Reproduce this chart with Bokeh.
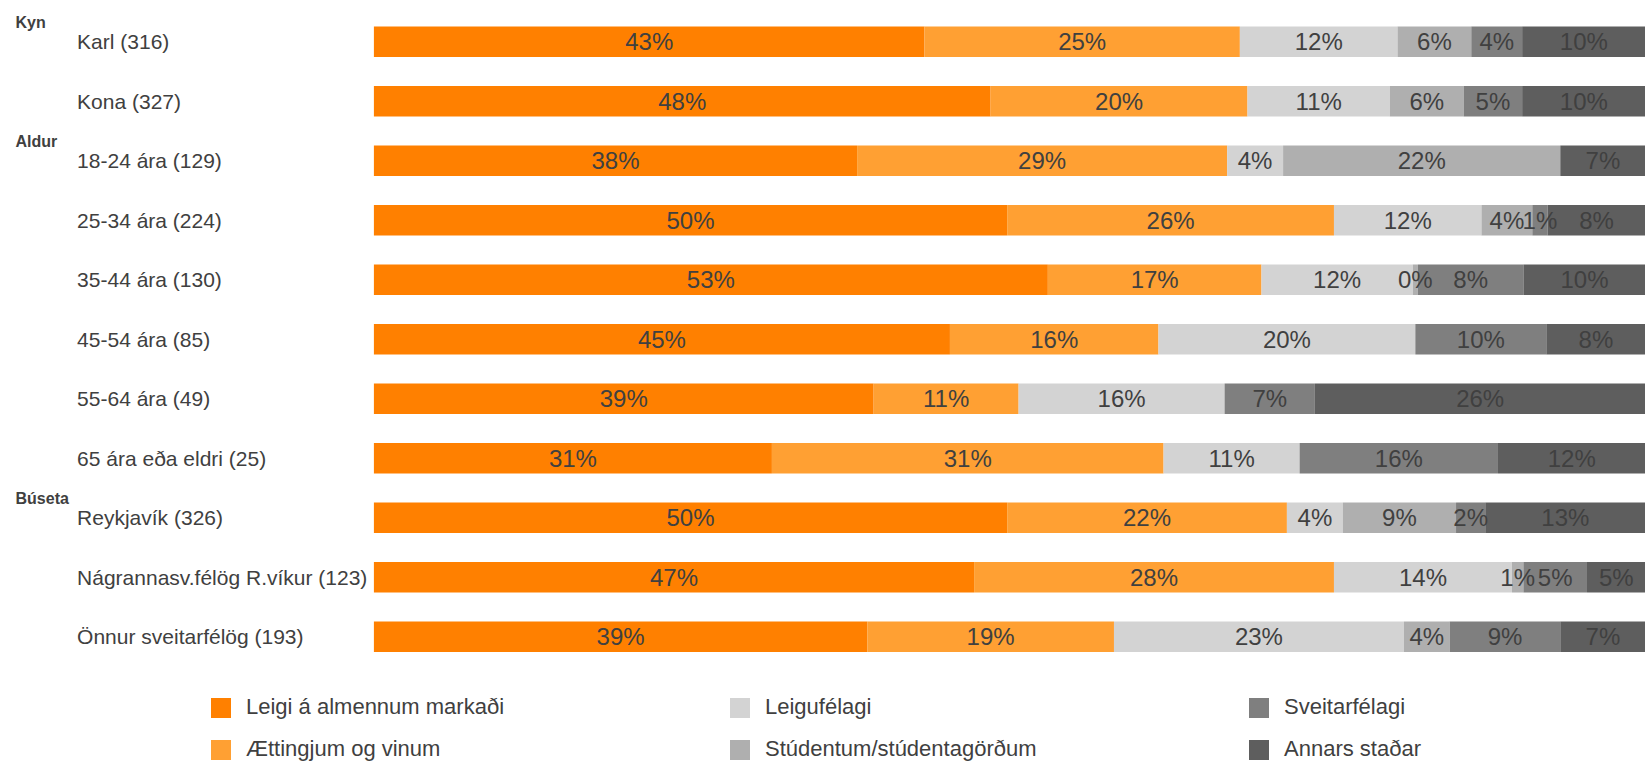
from bokeh.plotting import figure
from bokeh.models import ColumnDataSource, Range1d
from bokeh.embed import file_html
from bokeh.resources import INLINE
from bokeh.core.properties import value

# ---------------- data ----------------
categories = [
    "Karl (316)", "Kona (327)",
    "18-24 ára (129)", "25-34 ára (224)", "35-44 ára (130)", "45-54 ára (85)",
    "55-64 ára (49)", "65 ára eða eldri (25)",
    "Reykjavík (326)", "Nágrannasv.félög R.víkur (123)", "Önnur sveitarfélög (193)",
]
group_names = ["Kyn", "Aldur", "Búseta"]
group_first_row = [0, 2, 8]

series_names = [
    "Leigi á almennum markaði", "Ættingjum og vinum", "Leigufélagi",
    "Stúdentum/stúdentagörðum", "Sveitarfélagi", "Annars staðar",
]
leigi_almennum = [43.3, 48.5, 38.0, 49.8, 53.0, 45.3, 39.3, 31.3, 49.8, 47.2, 38.8]
aettingjum_vinum = [24.8, 20.2, 29.1, 25.7, 16.8, 16.4, 11.4, 30.8, 22.0, 28.3, 19.4]
leigufelagi = [12.4, 11.2, 4.4, 11.6, 11.9, 20.2, 16.2, 10.7, 4.4, 14.0, 22.8]
studentum = [5.8, 5.8, 21.8, 4.0, 0.4, 0.0, 0.0, 0.0, 8.9, 0.9, 3.6]
sveitarfelagi = [4.0, 4.6, 0.0, 1.2, 8.3, 10.3, 7.1, 15.6, 2.3, 5.0, 8.7]
annars_stadar = [9.7, 9.7, 6.7, 7.7, 9.6, 7.8, 26.0, 11.6, 12.6, 4.6, 6.7]
series_values = [leigi_almennum, aettingjum_vinum, leigufelagi, studentum, sveitarfelagi, annars_stadar]

colors = ["#FF8000", "#FFA033", "#D3D3D3", "#AFAFAF", "#7F7F7F", "#5E5E5E"]
TEXT = "#404040"
FONT = "Liberation Sans"

# ---------------- layout constants ----------------
W, H = 1645, 762
BAR_LEFT_PX = 373.4           # frame px where 0% sits
PX_PER_UNIT = (W - BAR_LEFT_PX) / 100.0
ROW_PX = 59.5                 # vertical pitch of rows
FIRST_ROW_PX = 41.25          # frame px of first row centre
x_start = -BAR_LEFT_PX / PX_PER_UNIT
y_top = -FIRST_ROW_PX / ROW_PX
y_bottom = y_top + H / ROW_PX

rows = list(range(len(categories)))
data = {"y": rows, "cat": categories}
keys = []
for i, vals in enumerate(series_values):
    k = f"s{i}"
    keys.append(k)
    data[k] = vals
src = ColumnDataSource(data)

p = figure(width=W, height=H, output_backend="svg", toolbar_location=None,
           x_range=Range1d(x_start, 100), y_range=Range1d(y_bottom, y_top),
           min_border=0, min_border_left=0, min_border_right=0,
           min_border_top=0, min_border_bottom=0)
p.axis.visible = False
p.grid.visible = False
p.outline_line_color = None
p.background_fill_color = "white"
p.border_fill_color = "white"

p.hbar_stack(keys, y="y", height=0.513, color=colors, line_color=None,
             source=src, legend_label=series_names)

# segment labels
lx, ly, lt = [], [], []
for r in rows:
    cum = 0.0
    for vals in series_values:
        v = vals[r]
        if v > 0:
            lx.append(cum + v / 2)
            ly.append(r)
            lt.append(f"{v:.0f}%")
        cum += v
p.text(x="x", y="y", text="t", source=ColumnDataSource(dict(x=lx, y=ly, t=lt)),
       text_align="center", text_baseline="middle", text_color=TEXT,
       text_font=value(FONT), text_font_size="24px")

# category labels
p.text(x=[x_start] * len(rows), y=rows, text=categories, x_offset=76.6,
       text_align="left", text_baseline="middle", text_color=TEXT,
       text_font=value(FONT), text_font_size="21px")

# group headers
p.text(x=[x_start] * len(group_names), y=[g - 0.32 for g in group_first_row],
       text=group_names, x_offset=15, text_align="left", text_baseline="middle",
       text_color=TEXT, text_font=value(FONT), text_font_size="16px",
       text_font_style="bold")

lg = p.legend[0]
lg.location = (208, 0)
lg.orientation = "vertical"
lg.nrows = 2
lg.glyph_width = 25
lg.glyph_height = 25
lg.label_standoff = 13
lg.label_width = 465
lg.spacing = 16
lg.padding = 0
lg.margin = 0
lg.border_line_color = None
lg.background_fill_alpha = 0
lg.label_text_font = FONT
lg.label_text_font_size = "22px"
lg.label_text_color = TEXT
lg.label_text_baseline = "middle"

open("out.html", "w").write(file_html(p, INLINE))
